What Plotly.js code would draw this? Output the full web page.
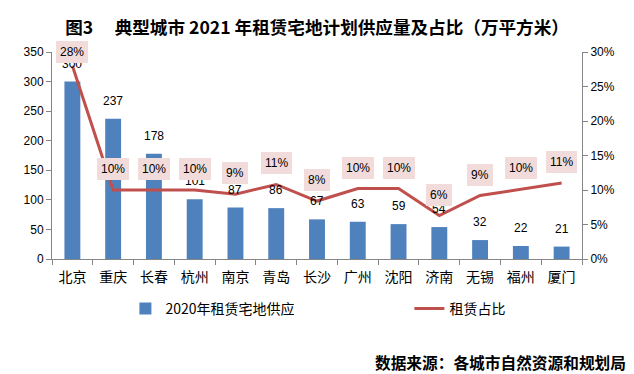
<!DOCTYPE html>
<html>
<head>
<meta charset="utf-8">
<script src="https://cdn.plot.ly/plotly-3.0.1.min.js"></script>
<style>html,body{margin:0;padding:0;background:#fff;}#chart{width:634px;height:374px;}</style>
</head>
<body>
<div id="chart"></div>
<script>
const cities = ['北京','重庆','长春','杭州','南京','青岛','长沙','广州','沈阳','济南','无锡','福州','厦门'];
const supply2020 = [300, 237, 178, 101, 87, 86, 67, 63, 59, 54, 32, 22, 21];
const rentShare = [0.28, 0.10, 0.10, 0.10, 0.094, 0.108, 0.084, 0.102, 0.102, 0.063, 0.092, 0.101, 0.11];
const leftTicks = [0, 50, 100, 150, 200, 250, 300, 350];
const rightTicks = [0, 0.05, 0.10, 0.15, 0.20, 0.25, 0.30];

const FONT = 'Liberation Sans, Noto Sans CJK SC, sans-serif';
const CJK = 'Noto Sans CJK SC, sans-serif';
const plotH = 207;

const annotations = [];
cities.forEach((c, i) => {
  annotations.push({
    x: c, y: supply2020[i], xref: 'x', yref: 'y', text: String(supply2020[i]),
    showarrow: false, yanchor: 'bottom', yshift: 9,
    font: {family: FONT, size: 12, color: '#000'}
  });
});
cities.forEach((c, i) => {
  const v = rentShare[i];
  const dist = (0.30 - v) / 0.30 * plotH;
  annotations.push({
    x: c, y: v, xref: 'x', yref: 'y2', text: Math.round(v * 100) + '%',
    showarrow: false, yanchor: 'middle', yshift: Math.min(21, dist),
    bgcolor: '#f2dcdb', borderpad: 4, borderwidth: 0,
    font: {family: FONT, size: 12, color: '#000'}
  });
});
annotations.push({
  xref: 'paper', yref: 'paper', x: 1.0868, y: -0.502, xanchor: 'right', yanchor: 'middle',
  text: '<b>数据来源：各城市自然资源和规划局</b>', showarrow: false,
  font: {family: CJK, size: 15.7, color: '#000'}
});

const traces = [
  {
    type: 'bar', name: '2020年租赁宅地供应', x: cities, y: supply2020,
    marker: {color: '#4f81bd'}, width: 0.39, yaxis: 'y', hoverinfo: 'skip', legend: 'legend'
  },
  {
    type: 'scatter', mode: 'lines', name: '租赁占比', x: cities, y: rentShare,
    line: {color: '#c0504d', width: 3}, yaxis: 'y2', hoverinfo: 'skip', legend: 'legend2'
  }
];

const legendBase = {
  orientation: 'h', xref: 'container', xanchor: 'left', yref: 'container', y: 1 - 309 / 374, yanchor: 'middle',
  font: {family: CJK, size: 14, color: '#000'}, bgcolor: 'rgba(0,0,0,0)'
};

const layout = {
  width: 634, height: 374,
  margin: {l: 52, r: 52, t: 52, b: 115},
  paper_bgcolor: '#fff', plot_bgcolor: 'rgba(0,0,0,0)',
  showlegend: true,
  title: {
    text: '<b>图3　 典型城市 2021 年租赁宅地计划供应量及占比（万平方米）</b>',
    x: 0.5, xref: 'container', xanchor: 'center', y: 0.926, yref: 'container', yanchor: 'middle',
    font: {family: CJK, size: 17.6, color: '#000'}
  },
  xaxis: {
    type: 'category', tickson: 'boundaries', ticks: 'outside', ticklen: 5, tickcolor: '#868686',
    showline: true, linecolor: '#868686', linewidth: 1, showgrid: false, zeroline: false,
    ticklabelstandoff: 5,
    tickfont: {family: CJK, size: 14, color: '#000'}, fixedrange: true
  },
  yaxis: {
    range: [0, 350], tickvals: leftTicks, ticks: 'outside', ticklen: 5, tickcolor: '#868686',
    showline: true, linecolor: '#868686', linewidth: 1, showgrid: false, zeroline: false,
    tickfont: {family: FONT, size: 12, color: '#000'}, fixedrange: true
  },
  yaxis2: {
    range: [0, 0.30], tickvals: rightTicks, tickformat: '.0%', overlaying: 'y', side: 'right',
    ticks: 'outside', ticklen: 5, tickcolor: '#868686',
    showline: true, linecolor: '#868686', linewidth: 1, showgrid: false, zeroline: false,
    tickfont: {family: FONT, size: 12, color: '#000'}, fixedrange: true
  },
  legend: Object.assign({}, legendBase, {x: 125.4 / 634}),
  legend2: Object.assign({}, legendBase, {x: 409.4 / 634}),
  annotations: annotations,
  bargap: 0.6
};

Plotly.newPlot('chart', traces, layout, {displayModeBar: false, staticPlot: true});
</script>
</body>
</html>
